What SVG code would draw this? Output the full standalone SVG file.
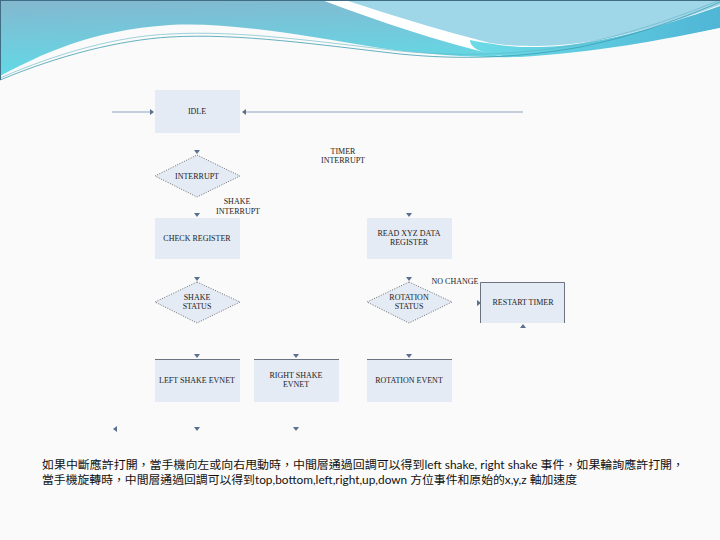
<svg xmlns="http://www.w3.org/2000/svg" width="720" height="540" viewBox="0 0 720 540">
<style>
.box{fill:#e4ebf5;}
.dia{fill:#e4ebf5;stroke:#4a4a4a;stroke-width:0.8;stroke-dasharray:1 1.5;}
.lbl{font-family:"Liberation Serif",serif;font-size:8px;fill:#222;text-anchor:middle;}
.edge{stroke:#8ea4bf;stroke-width:1;fill:none;}
.top{stroke:#6b7280;stroke-width:1;fill:none;}
.ah{fill:#5b6f8e;}
.cn{font-family:"Lato","Noto Sans CJK TC",sans-serif;font-size:11.5px;fill:#111;}
</style>
<defs>
<linearGradient id="gL" x1="0" y1="0" x2="0.25" y2="1">
<stop offset="0" stop-color="#84b7cf"/>
<stop offset="1" stop-color="#5fdde8"/>
</linearGradient>
<linearGradient id="gC" x1="0" y1="0" x2="1" y2="0">
<stop offset="0" stop-color="#6cdbe6"/>
<stop offset="1" stop-color="#4fb6d6"/>
</linearGradient>
<polygon id="ad" points="-3,-4 3,-4 0,0"/>
</defs>
<rect width="720" height="540" fill="#fafafa"/>
<g id="header">
<rect x="0" y="0" width="720" height="80" fill="url(#gL)"/>
<path d="M322,0 C380,22 440,42 500,56 L720,56 L720,0 Z" fill="#ffffff"/>
<path d="M345,0 L720,0 L720,5 C680,20 620,40 560,45 C530,47 510,46 490,43 C440,30 390,15 345,0 Z" fill="#9fd6e8"/>
<path d="M470,40 C510,48 530,48 560,46 C620,40 680,20 720,6 L720,28 C660,42 600,52 530,57 C490,58 470,50 470,40 Z" fill="url(#gC)"/>
<path d="M0,80 L0,76 C40,55 90,30 170,25 C230,22 300,35 380,48 C430,55 480,58 520,57 C600,52 660,40 720,28 L720,80 Z" fill="#fafafa"/>
<path d="M0,80 C60,55 120,40 170,37 C240,33 320,45 400,54 C460,60 520,58 580,47 C640,35 690,15 720,2" fill="none" stroke="#3f9db0" stroke-width="0.8"/>
<path d="M0,78 C60,52 120,36 170,34 C240,30 320,42 400,51 C460,57 520,55 580,44 C640,32 690,12 720,0" fill="none" stroke="#5fb3c2" stroke-width="0.6"/>
<path d="M0,0.5 H720 M0.5,0 V80" stroke="#3f6d84" stroke-width="1"/>
</g>
<g id="connectors">
<line class="edge" x1="112" y1="112" x2="151" y2="112"/>
<line class="edge" x1="523" y1="112" x2="245" y2="112"/>
<use href="#ad" class="ah" transform="translate(154,112) rotate(-90)"/>
<use href="#ad" class="ah" transform="translate(242,112) rotate(90)"/>
<use href="#ad" class="ah" transform="translate(197,154)"/>
<use href="#ad" class="ah" transform="translate(197,217)"/>
<use href="#ad" class="ah" transform="translate(409,217)"/>
<use href="#ad" class="ah" transform="translate(197,281)"/>
<use href="#ad" class="ah" transform="translate(409,281)"/>
<use href="#ad" class="ah" transform="translate(197,358)"/>
<use href="#ad" class="ah" transform="translate(296,358)"/>
<use href="#ad" class="ah" transform="translate(409,358)"/>
<use href="#ad" class="ah" transform="translate(197,431)"/>
<use href="#ad" class="ah" transform="translate(296,431)"/>
<use href="#ad" class="ah" transform="translate(481,303) rotate(-90)"/>
<use href="#ad" class="ah" transform="translate(523,324) rotate(180)"/>
<use href="#ad" class="ah" transform="translate(113,429) rotate(90)"/>
<text class="lbl" x="343" y="154">TIMER</text>
<text class="lbl" x="343" y="163">INTERRUPT</text>
<text class="lbl" x="237" y="204">SHAKE</text>
<text class="lbl" x="238" y="214">INTERRUPT</text>
<text class="lbl" x="455" y="284">NO CHANGE</text>
</g>
<g id="idle"><rect class="box" x="155" y="90" width="85" height="43"/><text class="lbl" x="197" y="114">IDLE</text></g>
<g id="interrupt"><polygon class="dia" points="197,155 240,176 197,197 155,176"/><text class="lbl" x="197" y="179">INTERRUPT</text></g>
<g id="check-register"><rect class="box" x="155" y="218" width="85" height="41"/><text class="lbl" x="197" y="241">CHECK REGISTER</text></g>
<g id="read-xyz"><rect class="box" x="367" y="218" width="85" height="41"/><text class="lbl" x="409" y="236">READ XYZ DATA</text><text class="lbl" x="409" y="245">REGISTER</text></g>
<g id="shake-status"><polygon class="dia" points="197,282 240,302 197,323 155,302"/><text class="lbl" x="197" y="300">SHAKE</text><text class="lbl" x="197" y="309">STATUS</text></g>
<g id="rotation-status"><polygon class="dia" points="409,282 452,302 409,323 367,302"/><text class="lbl" x="409" y="300">ROTATION</text><text class="lbl" x="409" y="309">STATUS</text></g>
<g id="restart-timer"><rect class="box" x="480" y="282" width="85" height="41"/><path class="top" d="M480.5,323 V282.5 H564.5 V323"/><text class="lbl" x="523" y="305">RESTART TIMER</text></g>
<g id="left-shake"><rect class="box" x="155" y="359" width="85" height="43"/><path class="top" d="M155,359.5 H240"/><text class="lbl" x="197" y="383">LEFT SHAKE EVNET</text></g>
<g id="right-shake"><rect class="box" x="254" y="359" width="85" height="43"/><path class="top" d="M254,359.5 H339"/><text class="lbl" x="296" y="378">RIGHT SHAKE</text><text class="lbl" x="296" y="387">EVNET</text></g>
<g id="rotation-event"><rect class="box" x="367" y="359" width="85" height="43"/><path class="top" d="M367,359.5 H452"/><text class="lbl" x="409" y="383">ROTATION EVENT</text></g>
<g id="note">
<text class="cn" x="42" y="469" textLength="642" lengthAdjust="spacingAndGlyphs">如果中斷應許打開，當手機向左或向右甩動時，中間層通過回調可以得到left shake, right shake 事件，如果輪詢應許打開，</text>
<text class="cn" x="42" y="484" textLength="535" lengthAdjust="spacingAndGlyphs">當手機旋轉時，中間層通過回調可以得到top,bottom,left,right,up,down 方位事件和原始的x,y,z 軸加速度</text>
</g>
</svg>
